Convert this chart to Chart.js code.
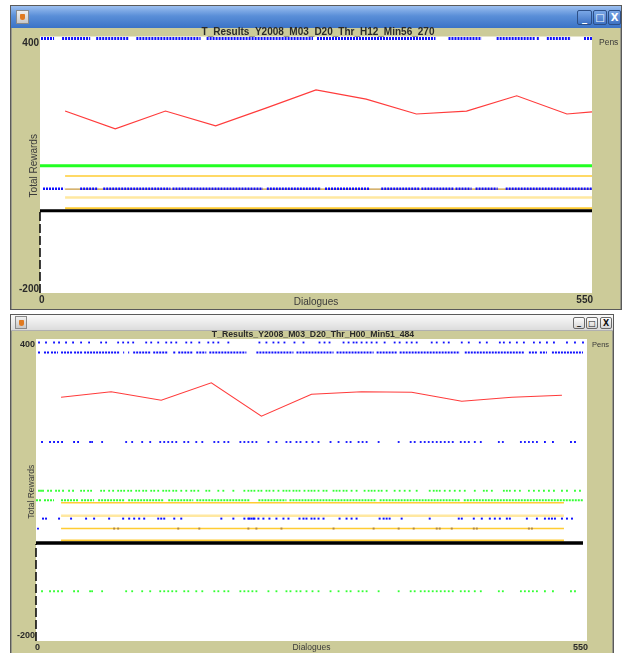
<!DOCTYPE html>
<html>
<head>
<meta charset="utf-8">
<title>T_Results</title>
<script src="https://cdn.jsdelivr.net/npm/chart.js@4.4.1/dist/chart.umd.min.js"></script>
<style>
  body { margin: 0; width: 624px; height: 653px; overflow: hidden; position: relative; background: #fff; font-family: "Liberation Sans", Arial, sans-serif; }
  .win { position: absolute; box-sizing: border-box; background: #cccb99; border: 1px solid #5a5a5a; box-shadow: inset 1px 0 0 #9a9a8a, inset -1px 0 0 #9a9a8a; }
  .bar { position: absolute; left: 0; right: 0; top: 0; }
  .active .bar { height: 22px; background: linear-gradient(#9cbff0, #5a8fd8 45%, #3b73c6); }
  .idle .bar { height: 15px; background: linear-gradient(#fafafa, #dcdcdc); border-bottom: 1px solid #b0b0b0; }
  .icon { position: absolute; width: 11px; height: 12px; border: 1px solid #8a8a8a; background: linear-gradient(#f0f0f0, #c8c8c8); }
  .icon::after { content: ""; position: absolute; left: 3px; top: 3px; width: 5px; height: 6px; background: #e07a20; border-radius: 1px 1px 3px 3px; }
  .btn { position: absolute; box-sizing: border-box; border: 1px solid #2d4f86; border-radius: 2px; color: #fff; font: bold 10px "DejaVu Sans", sans-serif; text-align: center; }
  .active .btn { background: linear-gradient(#7aa7e6, #3d72c4); }
  .idle .btn { border-color: #6a6a6a; color: #111; background: linear-gradient(#fdfdfd, #d6d6d6); font-size: 8px; }
  canvas { position: absolute; }
</style>
</head>
<body>

<div class="win active" style="left:10px; top:5px; width:612px; height:305px;">
  <div class="bar">
    <div class="icon" style="left:5px; top:4px;"></div>
    <div class="btn" style="left:566px; top:4px; width:15px; height:15px; line-height:13px;">_</div>
    <div class="btn" style="left:582px; top:4px; width:14px; height:15px; line-height:13px;">□</div>
    <div class="btn" style="left:597px; top:4px; width:13px; height:15px; line-height:14px;">X</div>
  </div>
</div>

<div class="win idle" style="left:10px; top:314px; width:604px; height:345px;">
  <div class="bar">
    <div class="icon" style="left:4px; top:1px; width:10px; height:11px;"></div>
    <div class="btn" style="left:562px; top:2px; width:12px; height:12px; line-height:10px;">_</div>
    <div class="btn" style="left:575px; top:2px; width:12px; height:12px; line-height:11px;">□</div>
    <div class="btn" style="left:589px; top:2px; width:12px; height:12px; line-height:11px;">X</div>
  </div>
</div>

<canvas id="topChart" width="608" height="281" style="left:12px; top:27px;"></canvas>
<canvas id="bottomChart" width="600" height="323" style="left:12px; top:330px;"></canvas>

<script>
// ---- shared axis text ----
const yTickValues = [400, -200];
const xTickValues = [0, 550];
const xAxisLabel = 'Dialogues';
const yAxisLabel = 'Total Rewards';
const legendLabel = 'Pens';

// ---- top window: T_Results_Y2008_M03_D20_Thr_H12_Min56_270 ----
const topTitle = 'T_Results_Y2008_M03_D20_Thr_H12_Min56_270';
const topRedX = [25, 75, 125, 175, 225, 275, 325, 375, 425, 475, 525, 550];
const topRedY = [229, 187, 229, 194, 236, 279, 257, 222, 229, 265, 222, 227];
const topBlueHighRuns = [[1, 14], [22, 50], [56, 88], [96, 160], [166, 272], [276, 394], [407, 440], [455, 493], [495, 498], [505, 529], [542, 550]];
const topBlueMidRuns = [[3, 24], [40, 58], [63, 130], [132, 222], [226, 280], [284, 328], [340, 378], [380, 412], [414, 430], [434, 456], [464, 550]];
const topLevels = { blueHigh: 400, green: 100, goldHigh: 76, blueMid: 46, brownMid: 45, paleGold: 25, goldLow: 0, black: -6 };
const topSpan = [25, 550];
const fullSpan = [0, 550];

// ---- bottom window: T_Results_Y2008_M03_D20_Thr_H00_Min51_484 ----
const bottomTitle = 'T_Results_Y2008_M03_D20_Thr_H00_Min51_484';
const botRedX = [25, 75, 125, 175, 225, 275, 325, 375, 425, 475, 525];
const botRedY = [290, 301, 284, 319, 252, 296, 301, 300, 282, 290, 294];
const botBlueTopXs = [3, 10, 18, 23, 30, 37, 45, 53, 65, 70, 82, 87, 92, 97, 110, 115, 122, 130, 135, 140, 150, 155, 163, 172, 177, 182, 192,
  223, 230, 237, 242, 248, 258, 267, 283, 288, 293, 307, 312, 317, 320, 325, 330, 335, 340, 348, 358, 363, 370, 375, 380,
  395, 400, 407, 412, 425, 432, 443, 450, 463, 467, 473, 480, 487, 497, 503, 510, 517, 530, 538, 546];
const botBlue380Runs = [[2, 5], [8, 13], [15, 22], [25, 37], [38, 47], [48, 83], [87, 88], [92, 93], [97, 115], [117, 132], [137, 140], [142, 157],
  [160, 170], [173, 187], [188, 210], [220, 257], [260, 297], [300, 337], [340, 360], [363, 423], [428, 487], [492, 500], [503, 510], [515, 546]];
// the blue row at 200 and the green row at -100 share the same dialogue positions
const botSparseXs = [6, 14, 18, 22, 26, 38, 42, 54, 56, 66, 90, 96, 106, 114, 124, 128, 132, 136, 140, 148, 152, 160, 166, 178, 182, 188, 192,
  204, 208, 212, 216, 220, 232, 240, 250, 254, 260, 264, 270, 276, 282, 294, 302, 310, 314, 322, 326, 330, 342, 362, 374, 378,
  384, 388, 392, 396, 400, 404, 408, 412, 416, 424, 428, 432, 438, 444, 462, 466, 484, 488, 492, 496, 500, 508, 516, 534, 538];
const botGreen102Xs = [3, 5, 7, 12, 15, 20, 23, 27, 33, 37, 45, 48, 52, 55, 65, 68, 73, 77, 82, 85, 88, 92, 95, 100, 103, 107, 110, 115, 118,
  122, 127, 130, 133, 137, 140, 145, 150, 155, 158, 162, 170, 173, 182, 187, 197, 208, 212, 215, 218, 222, 225, 230, 233, 237, 242,
  247, 250, 253, 257, 260, 263, 268, 272, 275, 278, 282, 287, 290, 297, 300, 303, 307, 310, 315, 320, 328, 332, 335, 338, 342, 345,
  350, 358, 363, 368, 373, 380, 393, 397, 400, 403, 408, 413, 418, 423, 428, 438, 447, 450, 455, 467, 470, 473, 478, 483, 492, 497,
  502, 507, 512, 517, 525, 530, 538, 543];
const botGreen83Runs = [[0, 5], [8, 18], [25, 43], [45, 58], [62, 88], [92, 127], [132, 157], [160, 213], [222, 250], [253, 340], [343, 423], [427, 546]];
const botBlue46Xs = [7, 10, 23, 35, 50, 58, 73, 87, 93, 98, 103, 108, 122, 125, 128, 138, 145, 185, 197, 208, 212, 213, 215, 217, 218, 222,
  227, 233, 240, 247, 252, 263, 267, 270, 275, 278, 282, 287, 303, 310, 315, 320, 343, 347, 350, 353, 365, 393, 422, 425, 437, 445,
  453, 458, 463, 470, 473, 490, 500, 508, 512, 515, 518, 525, 530, 535];
const botBrownXs = [78, 82, 142, 163, 212, 220, 245, 297, 337, 362, 377, 400, 403, 415, 437, 440, 492, 495];
const botLevels = { blueTop: 400, blue380: 380, blue200: 200, green102: 102, green83: 83, goldHigh: 78, paleGold: 52, blue46: 46, goldMid: 26, goldLow: 2, black: -3, greenLow: -100 };
const botSpan = [25, 527];
const botBlackSpan = [0, 546];

// ---- helpers ----
function runsToPoints(runs, y) {
  const pts = [];
  runs.forEach(([a, b]) => { pts.push({ x: a, y: y }, { x: b, y: y }, { x: b, y: null }); });
  return pts;
}
function xsToPoints(xs, y) {
  return xs.map(x => ({ x: x, y: y }));
}
function pairsToPoints(xs, ys) {
  return xs.map((x, i) => ({ x: x, y: ys[i] }));
}
function flat(span, y, color, width) {
  return { data: runsToPoints([span], y), borderColor: color, borderWidth: width, pointRadius: 0 };
}
function dotted(runs, y, color, width) {
  return { data: runsToPoints(runs, y), borderColor: color, borderWidth: width, borderDash: [2, 1], pointRadius: 0 };
}
function dots(xs, y, color, r) {
  return { data: xsToPoints(xs, y), showLine: false, pointStyle: 'rect', pointRadius: r, backgroundColor: color, borderWidth: 0 };
}
// dashed axis stub at x = 0, running from the bottom of the plot up to the black line
function axisStub(topValue) {
  return { data: [{ x: xTickValues[0], y: yTickValues[1] }, { x: xTickValues[0], y: topValue }], borderColor: '#000000', borderWidth: 1.5, borderDash: [9, 3], pointRadius: 0 };
}

// white plot area + all the frame text, placed through the chart's scales
const frameText = {
  id: 'frameText',
  beforeDraw(chart, args, o) {
    const { ctx, chartArea: a } = chart;
    ctx.save();
    ctx.fillStyle = '#ffffff';
    ctx.fillRect(a.left, a.top - o.padTop, a.right - a.left, a.bottom - a.top + o.padTop);
    ctx.restore();
  },
  afterDraw(chart, args, o) {
    const { ctx, chartArea: a, scales: { x, y } } = chart;
    ctx.save();
    ctx.fillStyle = '#2a2a2a';
    ctx.textBaseline = 'middle';

    ctx.font = o.titleFont;
    ctx.textAlign = 'center';
    ctx.fillText(o.title, (a.left + a.right) / 2 + o.titleDx, a.top + o.titleDy);

    ctx.font = o.tickFont;
    ctx.textAlign = 'right';
    yTickValues.forEach((v, i) => {
      ctx.fillText(String(v), a.left - 1, y.getPixelForValue(v) + o.yTickShift[i]);
    });
    ctx.textAlign = 'left';
    ctx.fillText(String(xTickValues[0]), x.getPixelForValue(xTickValues[0]) - 1, a.bottom + o.xTickDy);
    ctx.textAlign = 'right';
    ctx.fillText(String(xTickValues[1]), x.getPixelForValue(xTickValues[1]) + 1, a.bottom + o.xTickDy);

    ctx.fillStyle = '#3a3a3a';
    ctx.font = o.labelFont;
    ctx.textAlign = 'center';
    ctx.fillText(xAxisLabel, (a.left + a.right) / 2, a.bottom + o.xLabelDy);
    ctx.save();
    ctx.translate(a.left + o.yLabelDx, (a.top + a.bottom) / 2);
    ctx.rotate(-Math.PI / 2);
    ctx.fillText(yAxisLabel, 0, 0);
    ctx.restore();

    ctx.font = o.pensFont;
    ctx.textAlign = 'left';
    ctx.fillText(legendLabel, a.right + o.pensDx, a.top + o.pensDy);
    ctx.restore();
  }
};

function makeChart(id, datasets, padding, text) {
  return new Chart(document.getElementById(id), {
    type: 'line',
    data: { datasets: datasets },
    options: {
      responsive: false,
      animation: false,
      events: [],
      layout: { padding: padding },
      datasets: { line: { clip: false, spanGaps: false, tension: 0 } },
      scales: {
        x: { type: 'linear', min: xTickValues[0], max: xTickValues[1], display: false },
        y: { type: 'linear', min: yTickValues[1], max: yTickValues[0], display: false }
      },
      plugins: { legend: { display: false }, tooltip: { enabled: false }, frameText: text }
    },
    plugins: [frameText]
  });
}

const BLUE = '#1010ff';
const GOLD = '#ffcc33';
const PALE = '#ffe8a0';
const GREEN = '#33ff33';
const RED = '#ff3b3b';

// first dataset is drawn on top
makeChart('topChart', [
  dotted(topBlueHighRuns, topLevels.blueHigh, BLUE, 3),
  { data: pairsToPoints(topRedX, topRedY), borderColor: RED, borderWidth: 1.2, pointRadius: 0 },
  dotted(topBlueMidRuns, topLevels.blueMid, BLUE, 2.5),
  flat(topSpan, topLevels.brownMid, '#c89a40', 1.2),
  flat(fullSpan, topLevels.green, '#22ff22', 3),
  flat(topSpan, topLevels.goldHigh, GOLD, 1.5),
  flat(topSpan, topLevels.paleGold, PALE, 2.5),
  flat(fullSpan, topLevels.black, '#000000', 3),
  flat(topSpan, topLevels.goldLow, GOLD, 2),
  axisStub(topLevels.black - 2)
], { left: 28, right: 28, top: 11.5, bottom: 15 }, {
  title: topTitle, titleFont: 'bold 10px "Liberation Sans", Arial, sans-serif', titleDx: 2, titleDy: -6,
  tickFont: 'bold 10px "Liberation Sans", Arial, sans-serif', yTickShift: [4.5, -4], xTickDy: 7.7,
  labelFont: '10px "Liberation Sans", Arial, sans-serif', xLabelDy: 9.7, yLabelDx: -5.5,
  pensFont: '8.5px "Liberation Sans", Arial, sans-serif', pensDx: 7, pensDy: 4.5, padTop: 2
});

makeChart('bottomChart', [
  dots(botBlueTopXs, botLevels.blueTop, BLUE, 1.3),
  dotted(botBlue380Runs, botLevels.blue380, BLUE, 2),
  { data: pairsToPoints(botRedX, botRedY), borderColor: RED, borderWidth: 1.1, pointRadius: 0 },
  dots(botSparseXs, botLevels.blue200, BLUE, 1.3),
  dots(botGreen102Xs, botLevels.green102, GREEN, 1.3),
  dotted(botGreen83Runs, botLevels.green83, GREEN, 2),
  dots(botBlue46Xs, botLevels.blue46, BLUE, 1.4),
  dots(botBrownXs, botLevels.goldMid, '#b08848', 1.4),
  dots([2], botLevels.goldMid, BLUE, 1.3),
  flat(botSpan, botLevels.goldHigh, GOLD, 1.5),
  flat(botSpan, botLevels.paleGold, PALE, 2.5),
  flat(botSpan, botLevels.goldMid, GOLD, 1.5),
  flat(botBlackSpan, botLevels.black, '#000000', 3.5),
  flat(botSpan, botLevels.goldLow, GOLD, 2),
  dots(botSparseXs, botLevels.greenLow, GREEN, 1.3),
  axisStub(botLevels.black - 2)
], { left: 24, right: 25, top: 12.5, bottom: 12 }, {
  title: bottomTitle, titleFont: 'bold 8.7px "Liberation Sans", Arial, sans-serif', titleDx: 1.5, titleDy: -7.5,
  tickFont: 'bold 9px "Liberation Sans", Arial, sans-serif', yTickShift: [2, -5], xTickDy: 7,
  labelFont: '8.5px "Liberation Sans", Arial, sans-serif', xLabelDy: 7, yLabelDx: -4,
  pensFont: '7.5px "Liberation Sans", Arial, sans-serif', pensDx: 5, pensDy: 2, padTop: 3.5
});
</script>
</body>
</html>
